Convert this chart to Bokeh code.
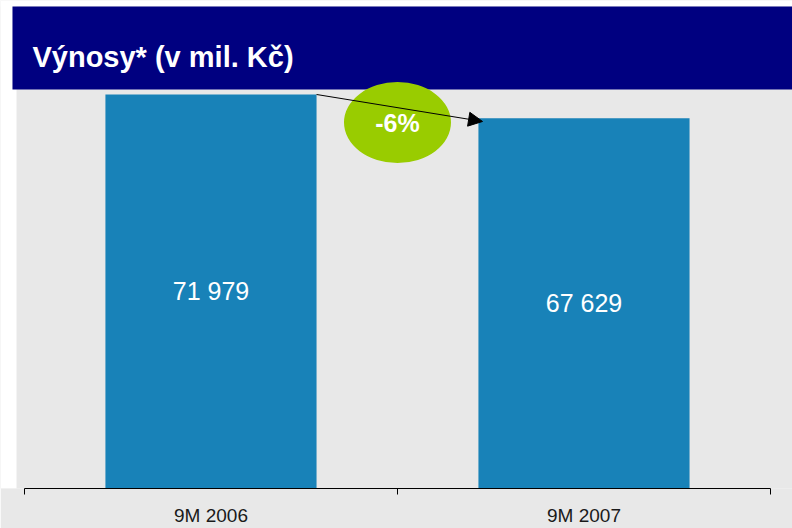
from bokeh.plotting import figure
from bokeh.models import (Range1d, FixedTicker, BoxAnnotation, Label, Arrow,
                          NormalHead, ColumnDataSource, LinearAxis)
from bokeh.embed import file_html
from bokeh.resources import INLINE
from bokeh.core.properties import value

# ---- data ----
categories = ["9M 2006", "9M 2007"]
revenues = [71979, 67629]
title_text = "Výnosy* (v mil. Kč)"

# ---- derived ----
centers = [i + 0.5 for i in range(len(categories))]
labels = [f"{v:,}".replace(",", " ") for v in revenues]
change = (revenues[1] - revenues[0]) / revenues[0] * 100
change_text = f"{change:.0f}%"

BAR_W = 0.566
NAVY = "#000080"
BLUE = "#1882b8"
GRAY = "#e8e8e8"
GREEN = "#99cc00"

X0, X1 = -0.0643, 2.059
Y1 = 89150

p = figure(width=792, height=528, output_backend="svg", toolbar_location=None,
           x_range=Range1d(X0, X1), y_range=Range1d(0, Y1),
           min_border_left=0, min_border_right=0, min_border_top=0,
           min_border_bottom=40, y_axis_location=None, x_axis_location=None)
p.background_fill_color = GRAY
p.border_fill_color = GRAY
p.outline_line_color = None
p.xgrid.visible = False
p.ygrid.visible = False

# decorative background pieces
p.add_layout(BoxAnnotation(left=X0, right=-0.0214, bottom=0, top=Y1,
                           fill_color="white", fill_alpha=1, line_color=None,
                           level="underlay"))
p.add_layout(BoxAnnotation(left=X0, right=X1, bottom=88050, top=Y1,
                           fill_color="white", fill_alpha=1, line_color=None,
                           level="underlay"))
p.add_layout(BoxAnnotation(left=-0.0322, right=X1, bottom=72890, top=88050,
                           fill_color=NAVY, fill_alpha=1, line_color=None,
                           level="underlay"))

src = ColumnDataSource(dict(x=centers, top=revenues, lab=labels,
                            mid=[v / 2 for v in revenues]))
p.vbar(x="x", top="top", bottom=0, width=BAR_W, source=src,
       fill_color=BLUE, line_color=None)
p.text(x="x", y="mid", text="lab", source=src, text_color="white",
       text_font=value("Liberation Sans"), text_font_size="25px",
       text_align="center", text_baseline="middle")

# axis
ax = LinearAxis(ticker=FixedTicker(ticks=centers,
                                   minor_ticks=list(range(len(categories) + 1))))
ax.bounds = (0, len(categories))
ax.major_label_overrides = {c: n for c, n in zip(centers, categories)}
ax.major_tick_line_color = None
ax.major_tick_in = 0
ax.major_tick_out = 6
ax.minor_tick_in = 0
ax.minor_tick_out = 6
ax.minor_tick_line_color = "black"
ax.axis_line_color = "black"
ax.major_label_standoff = 10
ax.major_label_text_font = "Liberation Sans"
ax.major_label_text_font_size = "19px"
ax.major_label_text_color = "#1a1a1a"
p.add_layout(ax, "below")

# arrow between bars
p.add_layout(Arrow(x_start=centers[0] + BAR_W / 2, y_start=revenues[0],
                   x_end=centers[1] - BAR_W / 2 + 0.011, y_end=revenues[1] - 580,
                   line_color="black", line_width=1,
                   end=NormalHead(size=14, fill_color="black", line_color="black")))

# change bubble
p.ellipse(x=[1.0], y=[66860], width=107, height=81, width_units="screen",
          height_units="screen", fill_color=GREEN, line_color=None)
p.text(x=[1.0], y=[66700], text=[change_text], text_color="white",
       text_font=value("Liberation Sans"), text_font_style="bold",
       text_font_size="25px", text_align="center", text_baseline="middle")

# title
p.add_layout(Label(x=0.0214, y=78740, text=title_text, text_color="white",
                   text_font="Liberation Sans", text_font_style="bold",
                   text_font_size="29px", text_baseline="alphabetic"))

open("out.html", "w").write(file_html(p, INLINE))
